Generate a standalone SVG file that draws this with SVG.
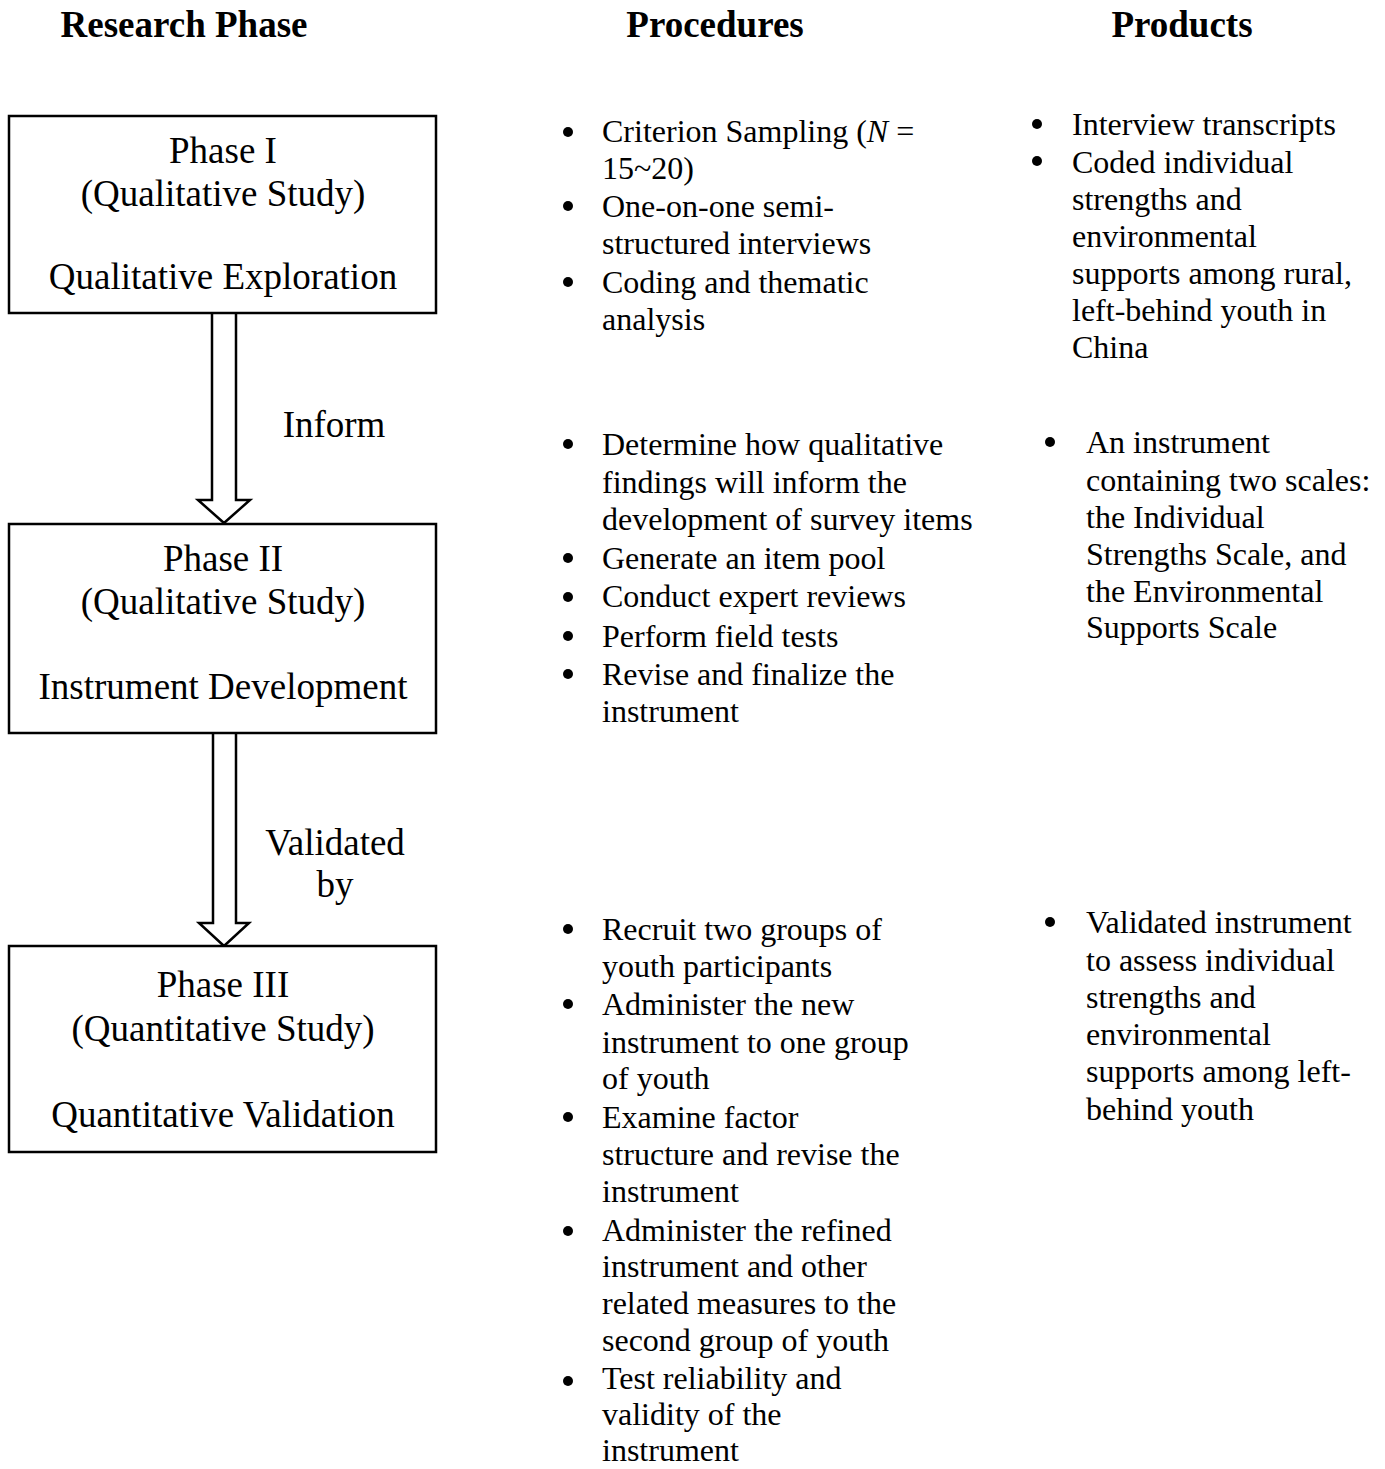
<svg xmlns="http://www.w3.org/2000/svg" width="1385" height="1469" viewBox="0 0 1385 1469">
<style>
text { font-family: "Liberation Serif", "Times New Roman", serif; fill: #000; }
.hdr { font-size: 37px; font-weight: bold; }
.box { fill: #fff; stroke: #000; stroke-width: 2.5; }
.bt { font-size: 37px; text-anchor: middle; }
.lbl { font-size: 37px; text-anchor: middle; }
.li { font-size: 32px; }
.arrow { fill: #fff; stroke: #000; stroke-width: 2.5; stroke-linejoin: miter; }
.dot { fill: #000; }
</style>
<rect width="1385" height="1469" fill="#fff"/>

<g id="headers">
<text class="hdr" x="184" y="37" text-anchor="middle">Research Phase</text>
<text class="hdr" x="715" y="37" text-anchor="middle">Procedures</text>
<text class="hdr" x="1182" y="37" text-anchor="middle">Products</text>
</g>

<g id="connectors">
<path class="arrow" d="M212,313 L212,500 L198,500 L224,523 L250,500 L236,500 L236,313"/>
<path class="arrow" d="M213,733 L213,923 L199,923 L224,946 L249,923 L236,923 L236,733"/>
<text class="lbl" x="334" y="437">Inform</text>
<text class="lbl" x="335" y="855">Validated</text>
<text class="lbl" x="335" y="897">by</text>
</g>

<g id="phase1">
<rect class="box" x="9" y="116" width="427" height="197"/>
<text class="bt" x="223" y="163">Phase I</text>
<text class="bt" x="223" y="206">(Qualitative Study)</text>
<text class="bt" x="223" y="289">Qualitative Exploration</text>
</g>

<g id="phase2">
<rect class="box" x="9" y="524" width="427" height="209"/>
<text class="bt" x="223" y="571">Phase II</text>
<text class="bt" x="223" y="614">(Qualitative Study)</text>
<text class="bt" x="223" y="699">Instrument Development</text>
</g>

<g id="phase3">
<rect class="box" x="9" y="946" width="427" height="206"/>
<text class="bt" x="223" y="997">Phase III</text>
<text class="bt" x="223" y="1041">(Quantitative Study)</text>
<text class="bt" x="223" y="1127">Quantitative Validation</text>
</g>

<g id="procedures1">
<circle class="dot" cx="568" cy="132" r="5"/>
<circle class="dot" cx="568" cy="206" r="5"/>
<circle class="dot" cx="568" cy="282" r="5"/>
<text class="li" x="602" y="142">Criterion Sampling (<tspan font-style="italic">N</tspan> =</text>
<text class="li" x="602" y="179">15~20)</text>
<text class="li" x="602" y="217">One-on-one semi-</text>
<text class="li" x="602" y="254">structured interviews</text>
<text class="li" x="602" y="293">Coding and thematic</text>
<text class="li" x="602" y="330">analysis</text>
</g>

<g id="procedures2">
<circle class="dot" cx="568" cy="444" r="5"/>
<circle class="dot" cx="568" cy="558" r="5"/>
<circle class="dot" cx="568" cy="597" r="5"/>
<circle class="dot" cx="568" cy="636" r="5"/>
<circle class="dot" cx="568" cy="674" r="5"/>
<text class="li" x="602" y="455">Determine how qualitative</text>
<text class="li" x="602" y="493">findings will inform the</text>
<text class="li" x="602" y="530">development of survey items</text>
<text class="li" x="602" y="569">Generate an item pool</text>
<text class="li" x="602" y="607">Conduct expert reviews</text>
<text class="li" x="602" y="647">Perform field tests</text>
<text class="li" x="602" y="685">Revise and finalize the</text>
<text class="li" x="602" y="722">instrument</text>
</g>

<g id="procedures3">
<circle class="dot" cx="568" cy="929" r="5"/>
<circle class="dot" cx="568" cy="1004" r="5"/>
<circle class="dot" cx="568" cy="1117" r="5"/>
<circle class="dot" cx="568" cy="1231" r="5"/>
<circle class="dot" cx="568" cy="1381" r="5"/>
<text class="li" x="602" y="940">Recruit two groups of</text>
<text class="li" x="602" y="977">youth participants</text>
<text class="li" x="602" y="1015">Administer the new</text>
<text class="li" x="602" y="1053">instrument to one group</text>
<text class="li" x="602" y="1089">of youth</text>
<text class="li" x="602" y="1128">Examine factor</text>
<text class="li" x="602" y="1165">structure and revise the</text>
<text class="li" x="602" y="1202">instrument</text>
<text class="li" x="602" y="1241">Administer the refined</text>
<text class="li" x="602" y="1277">instrument and other</text>
<text class="li" x="602" y="1314">related measures to the</text>
<text class="li" x="602" y="1351">second group of youth</text>
<text class="li" x="602" y="1389">Test reliability and</text>
<text class="li" x="602" y="1425">validity of the</text>
<text class="li" x="602" y="1461">instrument</text>
</g>

<g id="products1">
<circle class="dot" cx="1037" cy="124" r="5"/>
<circle class="dot" cx="1037" cy="161" r="5"/>
<text class="li" x="1072" y="135">Interview transcripts</text>
<text class="li" x="1072" y="173">Coded individual</text>
<text class="li" x="1072" y="210">strengths and</text>
<text class="li" x="1072" y="247">environmental</text>
<text class="li" x="1072" y="284">supports among rural,</text>
<text class="li" x="1072" y="321">left-behind youth in</text>
<text class="li" x="1072" y="358">China</text>
</g>

<g id="products2">
<circle class="dot" cx="1050" cy="442" r="5"/>
<text class="li" x="1086" y="453">An instrument</text>
<text class="li" x="1086" y="491">containing two scales:</text>
<text class="li" x="1086" y="528">the Individual</text>
<text class="li" x="1086" y="565">Strengths Scale, and</text>
<text class="li" x="1086" y="602">the Environmental</text>
<text class="li" x="1086" y="638">Supports Scale</text>
</g>

<g id="products3">
<circle class="dot" cx="1050" cy="922" r="5"/>
<text class="li" x="1086" y="933">Validated instrument</text>
<text class="li" x="1086" y="971">to assess individual</text>
<text class="li" x="1086" y="1008">strengths and</text>
<text class="li" x="1086" y="1045">environmental</text>
<text class="li" x="1086" y="1082">supports among left-</text>
<text class="li" x="1086" y="1120">behind youth</text>
</g>
</svg>
